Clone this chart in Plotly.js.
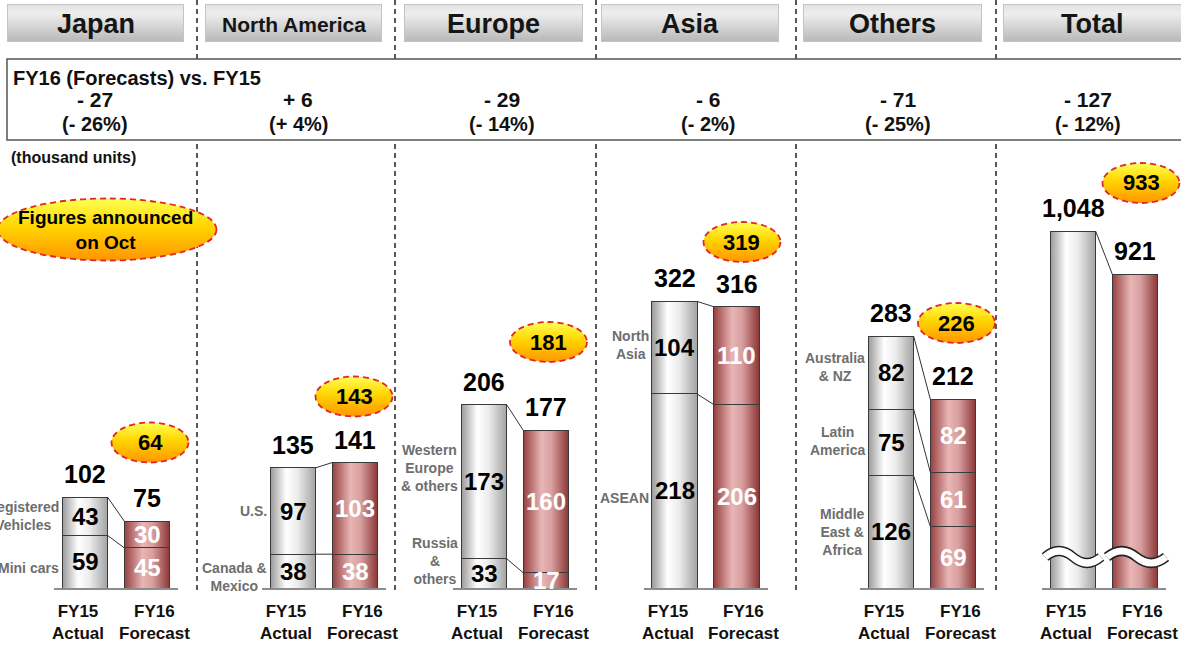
<!DOCTYPE html>
<html><head><meta charset="utf-8">
<script src="https://cdn.plot.ly/plotly-3.0.1.min.js"></script>
<style>html,body{margin:0;padding:0;background:#fff;overflow:hidden}#chart{width:1181px;height:646px}</style>
</head><body><div id="chart"></div>
<script>
// ---------------- DATA ----------------
const regions = ["Japan", "North America", "Europe", "Asia", "Others", "Total"];
const tickLabels = ["FY15<br>Actual", "FY16<br>Forecast"];
const japanSegments = ["Mini cars", "Registered<br>Vehicles"];
const japanFY15 = [59, 43];
const japanFY16 = [45, 30];
const naSegments = ["Canada &<br>Mexico", "U.S."];
const naFY15 = [38, 97];
const naFY16 = [38, 103];
const europeSegments = ["Russia<br>&<br>others", "Western<br>Europe<br>& others"];
const europeFY15 = [33, 173];
const europeFY16 = [17, 160];
const asiaSegments = ["ASEAN", "North<br>Asia"];
const asiaFY15 = [218, 104];
const asiaFY16 = [206, 110];
const othersSegments = ["Middle<br>East &<br>Africa", "Latin<br>America", "Australia<br>& NZ"];
const othersFY15 = [126, 75, 82];
const othersFY16 = [69, 61, 82];
const totalFY15 = 1048;
const totalFY16 = 921;
const priorForecasts = [64, 143, 181, 319, 226, 933];
const compareTitle = "FY16 (Forecasts) vs. FY15";
const unitNote = "(thousand units)";
const octNote = "Figures announced<br>on Oct";

// ---------------- LAYOUT CONSTANTS ----------------
const W = 1181, H = 646, BASE = 588;
const SCALE = 0.89, TOTAL_SCALE = 0.3405, BARW = 0.73;
const centers = [85, 293, 484, 674.5, 891, 1073];
const headerBoxes = [[7,184],[205,382],[404,583],[601,779],[803,982],[1003,1190]];
const headerSizes = [27, 21, 27, 27, 27, 27];
const diffX = [95, 298, 502, 708, 898, 1088];
const badgeCenters = [[150,442.5],[354,396.5],[548.5,342],[742,242],[956.5,323],[1141,183]];
const separators = [197, 395, 596, 796, 996];
const labelShift = [[-6,0],[-6,0],[12,14],[-7,3],[0,1,6]];
const GRAY = '#d9d9d9', RED = '#c07070';
const SANS = 'Liberation Sans, Arial, sans-serif';
const px = x => x / W, py = y => (BASE - y) / BASE;

const panels = [
  {seg: japanSegments, a: japanFY15, b: japanFY16},
  {seg: naSegments, a: naFY15, b: naFY16},
  {seg: europeSegments, a: europeFY15, b: europeFY16},
  {seg: asiaSegments, a: asiaFY15, b: asiaFY16},
  {seg: othersSegments, a: othersFY15, b: othersFY16}
];
const sum = arr => arr.reduce((s, v) => s + v, 0);

const traces = [], annotations = [], shapes = [], images = [];
const ann = o => annotations.push(Object.assign({xanchor:'center', yanchor:'middle', showarrow:false}, o));
const bold = (size, color) => ({family: SANS, size: size, color: color || '#000', weight: 'bold'});

const layout = {
  width: W, height: H, margin: {l:0, r:0, t:0, b:H-BASE},
  paper_bgcolor: '#ffffff', plot_bgcolor: 'rgba(0,0,0,0)',
  barmode: 'stack', showlegend: false,
  yaxis: {domain:[0,1], range:[0, BASE/SCALE], visible:false, anchor:'x', fixedrange:true},
  yaxis2: {domain:[0,1], range:[0, BASE/TOTAL_SCALE], visible:false, anchor:'x6', fixedrange:true}
};
const axisNames = centers.map((c, i) => 'x' + (i ? i + 1 : ''));
centers.forEach((c, i) => {
  layout['xaxis' + (i ? i + 1 : '')] = {
    domain: [px(c - 31), px(c + 93)], range: [-0.5, 1.5],
    tickvals: [0, 1], ticktext: tickLabels, showticklabels: false, tickangle: 0,
    showgrid: false, zeroline: false,
    showline: true, linecolor: '#8c8c8c', linewidth: 1.5, ticks: '',
    anchor: i < 5 ? 'y' : 'y2', fixedrange: true
  };
  tickLabels.forEach((t, k) => ann({xref: axisNames[i], yref: i < 5 ? 'y' : 'y2', x: k, y: 0, yanchor: 'top',
    yshift: -12, xshift: k ? 7 : -7, text: t, font: bold(17, '#111')}));
});

const fmt = v => v.toLocaleString('en-US');
const diffText = (a, b) => {
  const d = b - a;
  const s = d < 0 ? '- ' : '+ ';
  return [s + Math.abs(d), '(' + s + Math.round(Math.abs(d) / a * 100) + '%)'];
};

// regional panels
panels.forEach((p, i) => {
  const xa = axisNames[i];
  let c15 = 0, c16 = 0;
  p.seg.forEach((name, k) => {
    traces.push({type:'bar', x:[0,1], y:[p.a[k], p.b[k]], xaxis: xa, yaxis:'y', width: BARW,
      marker:{color:[GRAY, RED], line:{color:'#3a3a3a', width:1}}, hoverinfo:'skip'});
    const m15 = c15 + p.a[k] / 2, m16 = c16 + p.b[k] / 2;
    ann({xref:xa, yref:'y', x:0, y:m15, text:String(p.a[k]), font:bold(24, '#000')});
    ann({xref:xa, yref:'y', x:1, y:m16, text:String(p.b[k]), font:bold(24, '#ffffff')});
    ann({xref:xa, yref:'y', x:-BARW/2, y:m15, yshift: labelShift[i][k], xanchor:'right', xshift:-1,
      align:'center', text:name, font:bold(14, '#6e6e6e')});
    c15 += p.a[k]; c16 += p.b[k];
    traces.push({type:'scatter', mode:'lines', x:[BARW/2, 1-BARW/2], y:[c15, c16], xaxis:xa, yaxis:'y',
      line:{color:'#333', width:1}, hoverinfo:'skip'});
  });
  ann({xref:xa, yref:'y', x:0, y:c15, yanchor:'bottom', yshift:7, text:fmt(c15), font:bold(25)});
  ann({xref:xa, yref:'y', x:1, y:c16, yanchor:'bottom', yshift:7, text:fmt(c16), font:bold(25)});
});

// total panel
traces.push({type:'bar', x:[0,1], y:[totalFY15, totalFY16], xaxis:'x6', yaxis:'y2', width:BARW,
  marker:{color:[GRAY, RED], line:{color:'#3a3a3a', width:1}}, hoverinfo:'skip'});
traces.push({type:'scatter', mode:'lines', x:[BARW/2, 1-BARW/2], y:[totalFY15, totalFY16], xaxis:'x6', yaxis:'y2',
  line:{color:'#333', width:1}, hoverinfo:'skip'});
ann({xref:'x6', yref:'y2', x:0, y:totalFY15, yanchor:'bottom', yshift:7, text:fmt(totalFY15), font:bold(25)});
ann({xref:'x6', yref:'y2', x:1, y:totalFY16, yanchor:'bottom', yshift:7, text:fmt(totalFY16), font:bold(25)});

// separators (below) then comparison box
separators.forEach(x => shapes.push({type:'line', layer:'below', xref:'paper', yref:'paper',
  x0:px(x), x1:px(x), y0:py(0), y1:py(594), line:{color:'#222', width:1.5, dash:'5px,4px'}}));
shapes.push({type:'rect', layer:'below', xref:'paper', yref:'paper', x0:px(7), x1:px(1195), y0:py(59), y1:py(140),
  fillcolor:'#ffffff', line:{color:'#555', width:1.5}});

// wave break on total bars
function wave(xl, xr, yc, a) {
  const w = xr - xl;
  return 'M' + px(xl) + ',' + py(yc) + ' Q' + px(xl + w/4) + ',' + py(yc - 2*a) + ' ' + px(xl + w/2) + ',' + py(yc) +
         ' T' + px(xr) + ',' + py(yc);
}
[[1045,1101],[1107,1166]].forEach(([l, r]) => {
  shapes.push({type:'path', layer:'above', xref:'paper', yref:'paper', path:wave(l, r, 557, 6), line:{color:'#222', width:10}});
  shapes.push({type:'path', layer:'above', xref:'paper', yref:'paper', path:wave(l, r, 557, 6), line:{color:'#ffffff', width:7}});
});

// header boxes
const svgUri = s => 'data:image/svg+xml;charset=utf-8,' + encodeURIComponent(s);
function headerSvg(w, h) {
  return svgUri(`<svg xmlns='http://www.w3.org/2000/svg' width='${w}' height='${h}' viewBox='0 0 ${w} ${h}' preserveAspectRatio='none'>` +
    `<defs><linearGradient id='g' x1='0' y1='0' x2='0' y2='1'><stop offset='0' stop-color='#e2e2e2'/><stop offset='0.25' stop-color='#eeeeee'/><stop offset='1' stop-color='#b8b8b8'/></linearGradient></defs>` +
    `<rect x='0.5' y='0.5' width='${w-1}' height='${h-1}' fill='url(#g)' stroke='#c4c4c4' stroke-width='1'/></svg>`);
}
function badgeSvg(w, h) {
  return svgUri(`<svg xmlns='http://www.w3.org/2000/svg' width='${w}' height='${h}' viewBox='0 0 ${w} ${h}' preserveAspectRatio='none'>` +
    `<defs><linearGradient id='g' x1='0' y1='0' x2='0' y2='1'><stop offset='0' stop-color='#ffff55'/><stop offset='0.45' stop-color='#ffd500'/><stop offset='1' stop-color='#ff9500'/></linearGradient></defs>` +
    `<ellipse cx='${w/2}' cy='${h/2}' rx='${w/2-1.5}' ry='${h/2-1.5}' fill='url(#g)' stroke='#e3262a' stroke-width='1.8' stroke-dasharray='6,4'/></svg>`);
}
regions.forEach((r, i) => {
  const [x0, x1] = headerBoxes[i];
  images.push({source: headerSvg(x1 - x0, 38), xref:'paper', yref:'paper', x:px(x0), y:py(4), sizex:(x1-x0)/W, sizey:38/BASE,
    xanchor:'left', yanchor:'top', sizing:'stretch', layer:'above'});
  ann({xref:'paper', yref:'paper', x:px((x0 + Math.min(x1, 1181)) / 2), y:py(24), text:r, font:bold(headerSizes[i], '#151515')});
});

// comparison texts
const sums = panels.map(p => [sum(p.a), sum(p.b)]).concat([[totalFY15, totalFY16]]);
ann({xref:'paper', yref:'paper', x:px(11), y:py(78), xanchor:'left', text:compareTitle, font:bold(20, '#111')});
sums.forEach(([a, b], i) => {
  const [d, pct] = diffText(a, b);
  ann({xref:'paper', yref:'paper', x:px(diffX[i]), y:py(100), text:d, font:bold(21, '#111')});
  ann({xref:'paper', yref:'paper', x:px(diffX[i]), y:py(124), text:pct, font:bold(20, '#111')});
});
ann({xref:'paper', yref:'paper', x:px(9), y:py(157), xanchor:'left', text:unitNote, font:bold(16, '#111')});

// badges
priorForecasts.forEach((v, i) => {
  const [cx, cy] = badgeCenters[i];
  images.push({source: badgeSvg(80, 43), xref:'paper', yref:'paper', x:px(cx), y:py(cy), sizex:80/W, sizey:43/BASE,
    xanchor:'center', yanchor:'middle', sizing:'stretch', layer:'above'});
  ann({xref:'paper', yref:'paper', x:px(cx), y:py(cy), text:fmt(v), font:bold(22)});
});
images.push({source: badgeSvg(222, 65), xref:'paper', yref:'paper', x:px(-4), y:py(197), sizex:222/W, sizey:65/BASE,
  xanchor:'left', yanchor:'top', sizing:'stretch', layer:'above'});
ann({xref:'paper', yref:'paper', x:px(105), y:py(230), text:octNote, font:bold(19)});

layout.annotations = annotations;
layout.shapes = shapes;
layout.images = images;

Plotly.newPlot('chart', traces, layout, {staticPlot:true, displayModeBar:false}).then(gd => {
  const NS = 'http://www.w3.org/2000/svg';
  const svg = gd.querySelector('svg.main-svg');
  const defs = document.createElementNS(NS, 'defs');
  const grad = (id, stops) => {
    const g = document.createElementNS(NS, 'linearGradient');
    g.setAttribute('id', id); g.setAttribute('x1','0'); g.setAttribute('y1','0'); g.setAttribute('x2','1'); g.setAttribute('y2','0');
    stops.forEach(([o, c]) => { const s = document.createElementNS(NS, 'stop'); s.setAttribute('offset', o); s.setAttribute('stop-color', c); g.appendChild(s); });
    defs.appendChild(g);
  };
  grad('barGray', [[0,'#9a9a9a'],[0.35,'#ffffff'],[0.6,'#ececec'],[1,'#a3a3a3']]);
  grad('barRed', [[0,'#973f3f'],[0.4,'#e8b5b5'],[0.62,'#d9a0a0'],[1,'#8b3636']]);
  svg.insertBefore(defs, svg.firstChild);
  gd.querySelectorAll('.barlayer .point path').forEach(p => {
    const f = (p.style.fill || '').replace(/\s/g, '');
    if (f === 'rgb(217,217,217)') p.style.fill = 'url(#barGray)';
    else if (f === 'rgb(192,112,112)') p.style.fill = 'url(#barRed)';
  });
});
</script>
</body></html>
